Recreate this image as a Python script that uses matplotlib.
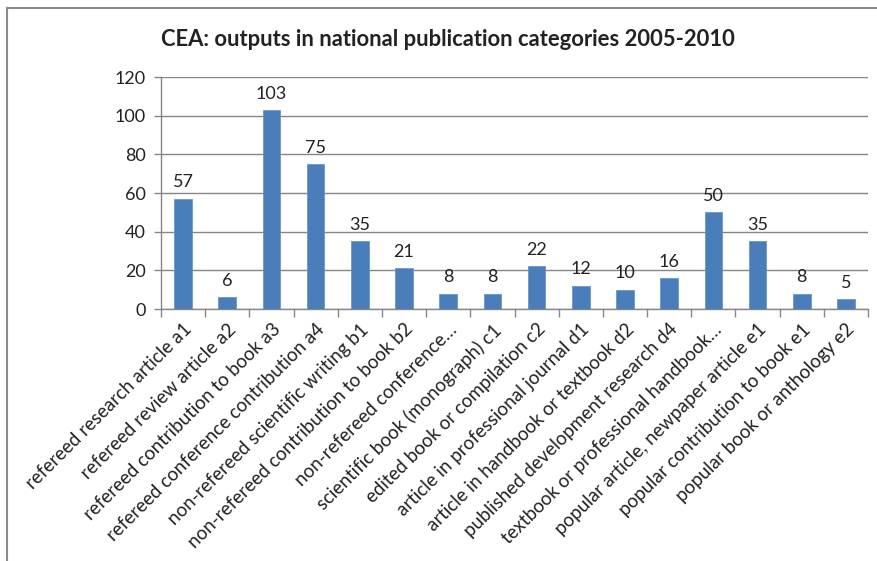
import matplotlib
matplotlib.use("Agg")
import matplotlib.pyplot as plt
from matplotlib.lines import Line2D

categories = [
    "refereed research article a1",
    "refereed review article a2",
    "refereed contribution to book a3",
    "refereed conference contribution a4",
    "non-refereed scientific writing b1",
    "non-refereed contribution to book b2",
    "non-refereed conference…",
    "scientific book (monograph) c1",
    "edited book or compilation c2",
    "article in professional journal d1",
    "article in handbook or textbook d2",
    "published development research d4",
    "textbook or professional handbook…",
    "popular article, newpaper article e1",
    "popular contribution to book e1",
    "popular book or anthology e2",
]
values = [57, 6, 103, 75, 35, 21, 8, 8, 22, 12, 10, 16, 50, 35, 8, 5]
yticks = [0, 20, 40, 60, 80, 100, 120]
title = "CEA: outputs in national publication categories 2005-2010"

plt.rcParams['font.family'] = ['Lato', 'DejaVu Sans']

W, H = 877, 561
fig = plt.figure(figsize=(W / 100, H / 100), dpi=100)
ax = fig.add_axes([161 / W, 1 - 309 / H, (868 - 161) / W, (309 - 77) / H])

grey = "#868686"
x = list(range(len(categories)))
ax.bar(x, values, width=0.4, color="#4A7EBB", edgecolor="#6A96CC", linewidth=0.6, zorder=3)
for xi, v in zip(x, values):
    ax.annotate(str(v), (xi, v), xytext=(0, 6), textcoords="offset points",
                ha="center", va="bottom", fontsize=13, color="#222222")

ax.set_xlim(-0.5, len(categories) - 0.5)
ax.set_ylim(0, 120)
ax.set_yticks(yticks)
ax.set_yticklabels([str(t) for t in yticks], fontsize=13, color="#222222")
ax.yaxis.grid(True, color=grey, linewidth=1.0, zorder=0)
ax.set_axisbelow(True)

ax.set_xticks([i - 0.5 for i in range(len(categories) + 1)])
ax.set_xticklabels([])
ax.tick_params(axis="x", length=6, color=grey, width=1)
ax.tick_params(axis="y", length=5, color=grey, width=1, pad=6)

for s in ["top", "right"]:
    ax.spines[s].set_visible(False)
for s in ["left", "bottom"]:
    ax.spines[s].set_color(grey)
    ax.spines[s].set_linewidth(1.0)

for xi, lab in zip(x, categories):
    ax.text(xi, -6, lab, rotation=45, ha="right", va="top",
            rotation_mode="anchor", fontsize=13.5, color="#222222",
            transform=ax.transData, clip_on=False)

fig.text(448 / W, 1 - 40 / H, title, ha="center", va="center",
         fontsize=15.8, fontweight="bold", color="#222222")

# chart frame (left and top edges visible)
fig.add_artist(Line2D([7 / W, 7 / W], [0, 1 - 8 / H], transform=fig.transFigure,
                      color="#8C8C8C", linewidth=1.5))
fig.add_artist(Line2D([7 / W, 1], [1 - 8 / H, 1 - 8 / H], transform=fig.transFigure,
                      color="#8C8C8C", linewidth=1.5))

fig.savefig("out.png", dpi=100)
